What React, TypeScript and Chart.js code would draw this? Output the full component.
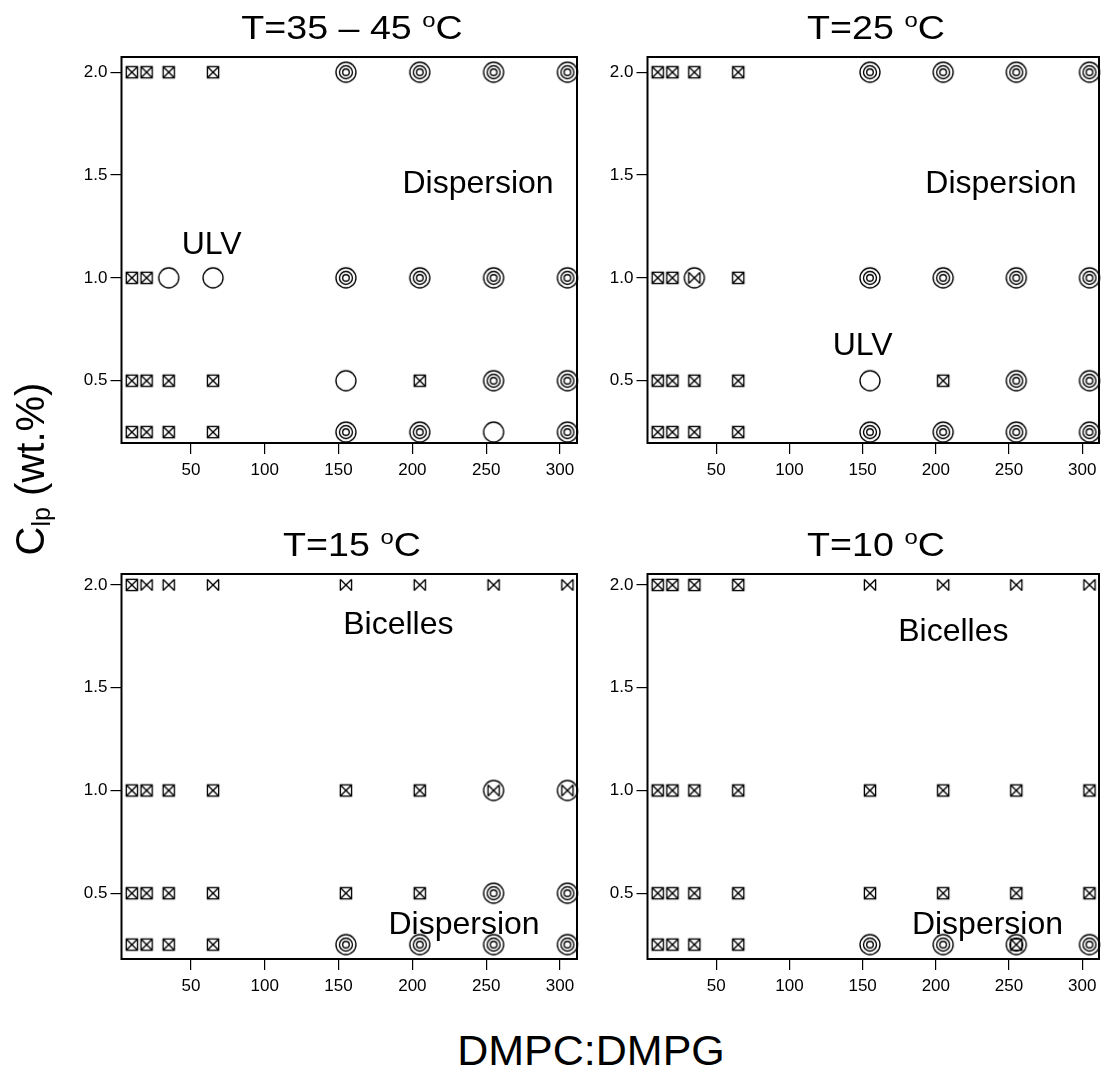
import React, { useEffect, useRef } from "react";
import { Chart, registerables } from "chart.js";
Chart.register(...registerables);

// ---- data ----
const xValues = [10, 20, 35, 65, 155, 205, 255, 305]; // DMPC:DMPG
const yLevels = [2.0, 1.0, 0.5, 0.25]; // C_lp (wt.%)
const xTicks = [50, 100, 150, 200, 250, 300];
const yTicks = [0.5, 1.0, 1.5, 2.0];

// S crossed square, B bow-tie, U open circle (ULV), D concentric circles (dispersion),
// C circle with bow-tie, E concentric circles with crossed square
const phases35to45 = [
  ["S", "S", "S", "S", "D", "D", "D", "D"],
  ["S", "S", "U", "U", "D", "D", "D", "D"],
  ["S", "S", "S", "S", "U", "S", "D", "D"],
  ["S", "S", "S", "S", "D", "D", "U", "D"],
];
const phases25 = [
  ["S", "S", "S", "S", "D", "D", "D", "D"],
  ["S", "S", "C", "S", "D", "D", "D", "D"],
  ["S", "S", "S", "S", "U", "S", "D", "D"],
  ["S", "S", "S", "S", "D", "D", "D", "D"],
];
const phases15 = [
  ["S", "B", "B", "B", "B", "B", "B", "B"],
  ["S", "S", "S", "S", "S", "S", "C", "C"],
  ["S", "S", "S", "S", "S", "S", "D", "D"],
  ["S", "S", "S", "S", "D", "D", "D", "D"],
];
const phases10 = [
  ["S", "S", "S", "S", "B", "B", "B", "B"],
  ["S", "S", "S", "S", "S", "S", "S", "S"],
  ["S", "S", "S", "S", "S", "S", "S", "S"],
  ["S", "S", "S", "S", "D", "D", "E", "D"],
];

const labels35to45 = [
  { text: "ULV", x: 64, y: 1.16 },
  { text: "Dispersion", x: 244.5, y: 1.457 },
];
const labels25 = [
  { text: "Dispersion", x: 244.5, y: 1.457 },
  { text: "ULV", x: 150, y: 0.669 },
];
const labels15 = [
  { text: "Bicelles", x: 190.5, y: 1.805 },
  { text: "Dispersion", x: 235, y: 0.346 },
];
const labels10 = [
  { text: "Bicelles", x: 212, y: 1.771 },
  { text: "Dispersion", x: 235.3, y: 0.346 },
];

const titles = ["T=35 \u2013 45 ", "T=25 ", "T=15 ", "T=10 "];

const FONT = "'Liberation Sans', Arial, Helvetica, sans-serif";

// ---- marker images ----
let markerCache: Record<string, HTMLCanvasElement> | null = null;
function markerCanvas(kind: string): HTMLCanvasElement {
  const s = 26;
  const c = document.createElement("canvas");
  c.width = s;
  c.height = s;
  const g = c.getContext("2d")!;
  g.strokeStyle = "#000";
  g.lineWidth = 1.35;
  const m = s / 2;
  const h = 5.6;
  const circle = (r: number) => {
    g.beginPath();
    g.arc(m, m, r, 0, Math.PI * 2);
    g.stroke();
  };
  const line = (x1: number, y1: number, x2: number, y2: number) => {
    g.beginPath();
    g.moveTo(m + x1, m + y1);
    g.lineTo(m + x2, m + y2);
    g.stroke();
  };
  const cross = () => {
    line(-h, -h, h, h);
    line(-h, h, h, -h);
  };
  const sides = () => {
    line(-h, -h, -h, h);
    line(h, -h, h, h);
  };
  const square = () => g.strokeRect(m - h, m - h, 2 * h, 2 * h);
  switch (kind) {
    case "S":
      square();
      cross();
      break;
    case "B":
      sides();
      cross();
      break;
    case "U":
      circle(10);
      break;
    case "D":
      circle(10);
      circle(6.5);
      circle(3.3);
      break;
    case "C":
      circle(10);
      sides();
      cross();
      break;
    case "E":
      circle(10);
      circle(6.5);
      square();
      cross();
      break;
  }
  return c;
}
function getMarkers() {
  if (!markerCache) {
    markerCache = {};
    for (const k of ["S", "B", "U", "D", "C", "E"]) markerCache[k] = markerCanvas(k);
  }
  return markerCache;
}

function buildDatasets(grid: string[][]) {
  const markers = getMarkers();
  return ["S", "B", "U", "D", "C", "E"]
    .map((k) => {
      const data: { x: number; y: number }[] = [];
      grid.forEach((row, i) =>
        row.forEach((code, j) => {
          if (code === k) data.push({ x: xValues[j], y: yLevels[i] });
        })
      );
      return {
        label: k,
        data,
        pointStyle: markers[k] as any,
        pointRadius: 10,
        showLine: false,
        clip: false as any,
      };
    })
    .filter((d) => d.data.length > 0);
}

const panelDecor = {
  id: "panelDecor",
  afterDatasetsDraw(chart: any, _args: any, opts: any) {
    const { ctx, chartArea: a, scales } = chart;
    ctx.save();
    ctx.strokeStyle = "#000";
    ctx.lineWidth = 2;
    ctx.strokeRect(a.left, a.top, a.width, a.height);
    ctx.fillStyle = "#000";
    ctx.font = `32px ${FONT}`;
    ctx.textAlign = "center";
    ctx.textBaseline = "middle";
    for (const l of opts.labels || []) {
      ctx.fillText(l.text, scales.x.getPixelForValue(l.x), scales.y.getPixelForValue(l.y));
    }
    ctx.restore();
  },
};

type PanelProps = {
  grid: string[][];
  labels: { text: string; x: number; y: number }[];
  left: number;
  top: number;
  width: number;
  height: number;
  padTop: number;
  padRight: number;
  yAxisW: number;
  yMin: number;
  yMax: number;
};

function Panel(p: PanelProps) {
  const ref = useRef<HTMLCanvasElement>(null);
  useEffect(() => {
    const tickFont = { family: FONT, size: 17 };
    const chart = new Chart(ref.current!, {
      type: "scatter",
      data: { datasets: buildDatasets(p.grid) as any },
      plugins: [panelDecor as any],
      options: {
        animation: false,
        responsive: false,
        events: [],
        layout: { autoPadding: false, padding: { top: p.padTop, right: p.padRight, left: 0, bottom: 0 } },
        plugins: {
          legend: { display: false },
          tooltip: { enabled: false },
          panelDecor: { labels: p.labels },
        } as any,
        scales: {
          x: {
            type: "linear",
            min: 3,
            max: 311.5,
            afterBuildTicks: (s: any) => {
              s.ticks = xTicks.map((v) => ({ value: v }));
            },
            afterFit: (s: any) => {
              s.height = 50;
              s.paddingLeft = 0;
              s.paddingRight = 0;
            },
            border: { display: false },
            grid: { drawOnChartArea: false, drawTicks: true, tickLength: 11, color: "#000", lineWidth: 1.2 },
            ticks: {
              color: "#000",
              font: tickFont,
              padding: 6,
              maxRotation: 0,
              autoSkip: false,
              callback: (v: any) => String(v),
            },
          },
          y: {
            type: "linear",
            min: p.yMin,
            max: p.yMax,
            afterBuildTicks: (s: any) => {
              s.ticks = yTicks.map((v) => ({ value: v }));
            },
            afterFit: (s: any) => {
              s.width = p.yAxisW;
              s.paddingTop = 0;
              s.paddingBottom = 0;
            },
            border: { display: false },
            grid: { drawOnChartArea: false, drawTicks: true, tickLength: 11, color: "#000", lineWidth: 1.2 },
            ticks: {
              color: "#000",
              font: tickFont,
              padding: 3,
              autoSkip: false,
              callback: (v: any) => Number(v).toFixed(1),
            },
          },
        },
      } as any,
    });
    return () => chart.destroy();
  }, []);
  return (
    <canvas
      ref={ref}
      width={p.width}
      height={p.height}
      style={{ position: "absolute", left: p.left, top: p.top, width: p.width, height: p.height }}
    />
  );
}

function Title({ text, cx, top }: { text: string; cx: number; top: number }) {
  return (
    <div
      style={{
        position: "absolute",
        left: cx - 200,
        top,
        width: 400,
        textAlign: "center",
        fontFamily: FONT,
        fontSize: 33,
        lineHeight: "33px",
        color: "#000",
        whiteSpace: "pre",
        transform: "scaleX(1.14)",
      }}
    >
      {text}
      <span style={{ position: "relative", top: -12, fontSize: 21 }}>o</span>C
    </div>
  );
}

export default function App() {
  const topRow = { top: 0, height: 493, padTop: 57, yMin: 0.197, yMax: 2.074 };
  const botRow = { top: 520, height: 489, padTop: 54, yMin: 0.18, yMax: 2.053 };
  const leftCol = { left: 0, width: 590, padRight: 13, yAxisW: 121.5 };
  const rightCol = { left: 590, width: 511, padRight: 2, yAxisW: 57.5 };
  return (
    <div
      style={{
        position: "fixed",
        left: 0,
        top: 0,
        width: 1101,
        height: 1071,
        overflow: "hidden",
        background: "#fff",
      }}
    >
      <Panel grid={phases35to45} labels={labels35to45} {...topRow} {...leftCol} />
      <Panel grid={phases25} labels={labels25} {...topRow} {...rightCol} />
      <Panel grid={phases15} labels={labels15} {...botRow} {...leftCol} />
      <Panel grid={phases10} labels={labels10} {...botRow} {...rightCol} />
      <Title text={titles[0]} cx={352} top={11} />
      <Title text={titles[1]} cx={876} top={11} />
      <Title text={titles[2]} cx={352} top={528} />
      <Title text={titles[3]} cx={876} top={528} />
      <div
        style={{
          position: "absolute",
          left: 30 - 150,
          top: 469 - 20,
          width: 300,
          height: 40,
          lineHeight: "40px",
          fontSize: 40,
          fontFamily: FONT,
          textAlign: "center",
          color: "#000",
          transform: "rotate(-90deg)",
          whiteSpace: "pre",
        }}
      >
        C<span style={{ position: "relative", top: 6, fontSize: 25 }}>lp</span> (wt.%)
      </div>
      <div
        style={{
          position: "absolute",
          left: 591 - 250,
          top: 1050 - 25,
          width: 500,
          height: 50,
          lineHeight: "50px",
          fontSize: 43,
          fontFamily: FONT,
          textAlign: "center",
          color: "#000",
        }}
      >
        DMPC:DMPG
      </div>
    </div>
  );
}
